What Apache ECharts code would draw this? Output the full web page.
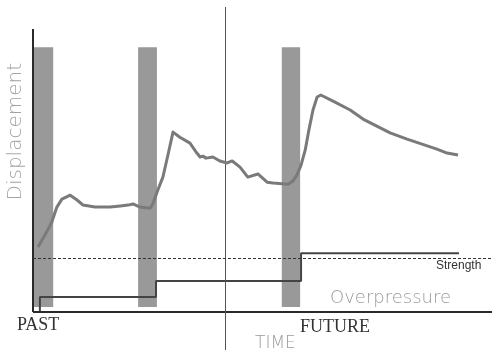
<!DOCTYPE html>
<html>
<head>
<meta charset="utf-8">
<script src="https://cdn.jsdelivr.net/npm/echarts@6/dist/echarts.min.js"></script>
<style>
html,body{margin:0;padding:0;background:#fff;}
#c{width:492px;height:354px;}
</style>
</head>
<body>
<div id="c"></div>
<script>
// Time axis runs 0..100, vertical quantity 0..100 (top of the y axis)
const dispX = [1.1, 2.6, 4.1, 5.2, 6.3, 8.1, 9.6, 10.9, 13.5, 16.8, 19.0, 20.7, 21.8, 23.3, 25.5, 26.1, 27.2, 28.3, 29.4, 30.5, 32.0, 34.2, 35.7, 36.4, 37.0, 37.7, 39.2, 40.7, 42.3, 43.4, 45.1, 46.8, 49.0, 51.0, 52.3, 55.6, 56.6, 57.5, 58.4, 59.3, 60.1, 61.0, 61.9, 62.7, 65.8, 69.1, 71.9, 77.8, 81.5, 88.0, 90.2, 92.6];
const dispY = [23.0, 27.2, 31.8, 37.1, 39.9, 41.3, 39.6, 37.8, 37.1, 37.1, 37.5, 37.8, 38.2, 37.1, 36.7, 38.2, 43.1, 47.7, 55.5, 63.6, 61.8, 59.7, 56.2, 54.8, 55.1, 54.4, 54.8, 53.4, 52.7, 53.4, 51.2, 47.7, 48.8, 45.9, 45.6, 45.2, 46.3, 48.4, 51.9, 57.2, 64.3, 71.4, 76.0, 76.7, 74.2, 71.4, 68.2, 63.3, 61.1, 57.6, 56.2, 55.5];
const overX = [1.5, 1.5, 26.8, 58.4, 92.8];
const overY = [0, 5.3, 11.0, 20.8, 20.8];
const strengthLevel = 19.1;
const barStart = [0.2, 22.9, 54.2];
const barEnd = [4.4, 27.0, 58.2];
const barBottom = 1.8;
const barTop = 93.6;
const nowX = 41.8;
const yMin = -13.4, yMax = 107.8;

const chart = echarts.init(document.getElementById('c'), null, {renderer: 'canvas'});
const hidden = {show: false};
const lightFont = '"DejaVu Sans", sans-serif';
chart.setOption({
  animation: false,
  backgroundColor: '#fff',
  grid: {left: 33, right: 0, top: 7, bottom: 4},
  xAxis: {type: 'value', min: 0, max: 100, axisLine: hidden, axisTick: hidden, axisLabel: hidden, splitLine: hidden},
  yAxis: {type: 'value', min: yMin, max: yMax, axisLine: hidden, axisTick: hidden, axisLabel: hidden, splitLine: hidden},
  series: [
    {
      type: 'line', data: [], silent: true, z: 1,
      markArea: {
        silent: true,
        itemStyle: {color: '#999999'},
        data: barStart.map((s, i) => [{xAxis: s, yAxis: barBottom}, {xAxis: barEnd[i], yAxis: barTop}])
      }
    },
    {
      type: 'line', data: [], silent: true, z: 3,
      markLine: {
        silent: true, symbol: 'none', label: {show: false},
        data: [
          [{coord: [0, 0], lineStyle: {color: '#2a2a2a', width: 2, type: 'solid'}}, {coord: [0, 100]}],
          [{coord: [0, 0], lineStyle: {color: '#2a2a2a', width: 2, type: 'solid'}}, {coord: [100, 0]}],
          [{coord: [nowX, yMin], lineStyle: {color: '#555', width: 1, type: 'solid'}}, {coord: [nowX, yMax]}],
          [{coord: [0, strengthLevel], lineStyle: {color: '#333', width: 1, type: [3, 2]}}, {coord: [100, strengthLevel]}]
        ]
      }
    },
    {
      name: 'Overpressure', type: 'line', step: 'end', z: 4,
      data: overX.map((x, i) => [x, overY[i]]),
      symbol: 'none', lineStyle: {color: '#444', width: 2}
    },
    {
      name: 'Displacement', type: 'line', z: 5,
      data: dispX.map((x, i) => [x, dispY[i]]),
      symbol: 'none', lineStyle: {color: '#7a7a7a', width: 3, join: 'round'}
    }
  ],
  graphic: [
    {type: 'text', left: 6, top: 63, rotation: Math.PI / 2, originX: 0, originY: 0,
     style: {text: 'Displacement', fill: '#a3a3a3', font: '200 20px ' + lightFont}},
    {type: 'text', left: 17, top: 316, style: {text: 'PAST', fill: '#333', font: '18px "Liberation Serif", serif'}},
    {type: 'text', left: 300, top: 318, style: {text: 'FUTURE', fill: '#333', font: '18px "Liberation Serif", serif'}},
    {type: 'text', left: 255, top: 335, style: {text: 'TIME', fill: '#9a9a9a', font: '200 17px ' + lightFont}},
    {type: 'text', left: 330, top: 289, style: {text: 'Overpressure', fill: '#9a9a9a', font: '200 18px ' + lightFont}},
    {type: 'text', left: 436, top: 260, style: {text: 'Strength', fill: '#333', font: '12px "Liberation Sans", Arial, sans-serif'}}
  ]
});
</script>
</body>
</html>
